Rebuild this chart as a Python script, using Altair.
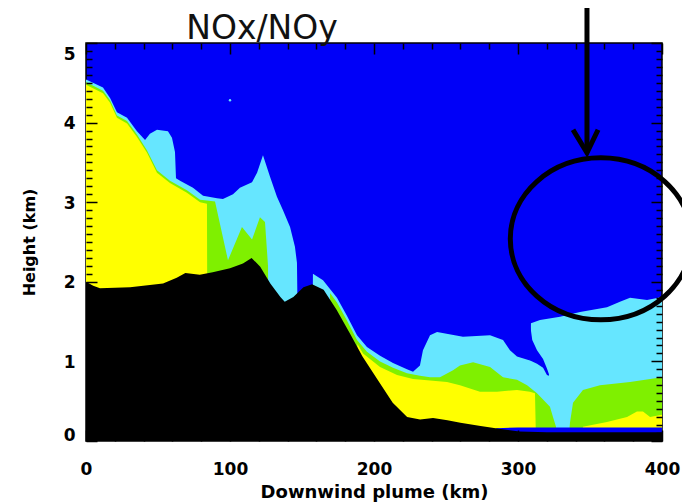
import altair as alt
import pandas as pd

BLUE = "#0000F8"
CYAN = "#66E6FF"
GREEN = "#7FF000"
YELLOW = "#FFFF00"
FONT = "DejaVu Sans"

# ---- data (km downwind, km height) ----
terrain_x = [0, 5, 9.7, 30.6, 53.5, 63, 69, 79, 88, 100, 109, 115, 121, 128, 135, 138, 144, 151,
             157, 165, 174, 183, 192, 204, 213, 223, 232, 241, 251, 260, 274, 288, 301, 320, 400]
terrain_h = [2.0, 1.95, 1.92, 1.93, 1.98, 2.05, 2.11, 2.09, 2.12, 2.17, 2.23, 2.30, 2.19, 1.98, 1.81,
             1.75, 1.81, 1.93, 1.97, 1.90, 1.65, 1.36, 1.06, 0.73, 0.48, 0.30, 0.27, 0.29, 0.26, 0.23,
             0.19, 0.15, 0.12, 0.11, 0.11]

floor_x = [280, 285, 300, 400]
floor_h = [0.0, 0.16, 0.17, 0.17]

cyan_x = [0, 11.8, 16.7, 21.5, 28.5, 35.4, 41.0, 44.4, 49.3, 56.9, 59.7, 61.8, 62.5, 65.3, 74.3, 81.3,
          91.0, 95.1, 102.1, 106.9, 115.3, 118.8, 122.9, 127.8, 132.6, 136.8, 141.7, 145.1, 146.5,
          147.0, 147.5, 156.5, 157.6, 164.6, 174.3, 181.3, 188.2, 195.1, 204.2, 213.2, 222.9, 227.1,
          231.9, 234.0, 238.9, 243.8, 261.8, 280.6, 289.6, 294.4, 299.3, 308.3, 309.0, 315.3, 329.2,
          343.1, 361.8, 370.8, 377.8, 389.6, 400]
cyan_h = [4.54, 4.44, 4.31, 4.13, 4.06, 3.89, 3.78, 3.86, 3.91, 3.89, 3.81, 3.63, 3.30, 3.27, 3.18, 3.08,
          3.05, 3.04, 3.10, 3.18, 3.25, 3.37, 3.59, 3.32, 3.07, 2.90, 2.69, 2.44, 2.24,
          1.5, 0.0, 0.0, 2.10, 2.02, 1.80, 1.57, 1.33, 1.18, 1.07, 0.98, 0.90, 0.87,
          0.95, 1.14, 1.33, 1.37, 1.31, 1.33, 1.27, 1.14, 1.06, 1.01, 1.48, 1.52, 1.56,
          1.62, 1.68, 1.75, 1.80, 1.77, 1.81]

tongue_x = [308.3, 309.9, 313.2, 317.4, 320.1, 321.5]
tongue_lo = [1.01, 1.00, 0.97, 0.92, 0.83, 0.82]
tongue_hi = [1.48, 1.27, 1.14, 1.03, 0.91, 0.84]

green_x = [0, 11.8, 16.7, 21.5, 28.5, 35.4, 42.4, 49.3, 58.3, 70.1, 79.2, 84.0, 89.6, 98.6, 108.3,
           115.3, 120.8, 124.3, 126.4, 127, 168, 169.5, 174.3, 181.3, 188.2, 195.1, 204.2, 213.2,
           222.9, 231.9, 238.9, 245.8, 254.9, 259.7, 268.8, 280.6, 289.6, 299.3, 306.3, 313.2, 322.2,
           324.3, 326.4, 327.5, 335, 336.1, 338.2, 345.1, 356.9, 377.8, 400]
green_h = [4.51, 4.40, 4.28, 4.09, 4.02, 3.85, 3.65, 3.40, 3.27, 3.15, 3.03, 3.02, 3.01, 2.27, 2.69,
           2.53, 2.81, 2.75, 2.2, 0.0, 0.0, 1.86, 1.74, 1.51, 1.27, 1.12, 1.00, 0.92,
           0.85, 0.82, 0.80, 0.80, 0.89, 0.95, 0.99, 0.93, 0.80, 0.77, 0.70, 0.60, 0.43,
           0.30, 0.18, 0.0, 0.0, 0.23, 0.48, 0.64, 0.70, 0.74, 0.80]

yellow_x = [0, 0.7, 11.8, 16.7, 21.5, 28.5, 35.4, 42.4, 49.3, 58.3, 70.1, 79.2, 84.0, 84.5, 186,
            188.5, 192.4, 204.2, 216, 227.1, 238.9, 250.7, 259.7, 273.6, 285.4, 299.3, 308.3, 311.8,
            312.5, 344, 345.1, 361.8, 375.7, 382.6, 386.8, 391.7, 400]
yellow_h = [4.48, 4.47, 4.37, 4.25, 4.06, 3.99, 3.82, 3.62, 3.37, 3.24, 3.12, 3.00, 2.98, 0.0, 0.0,
            1.22, 1.10, 0.93, 0.83, 0.78, 0.76, 0.74, 0.70, 0.62, 0.62, 0.64, 0.62, 0.60,
            0.0, 0.0, 0.18, 0.24, 0.30, 0.37, 0.37, 0.30, 0.33]

speck_x = [100]
speck_h = [4.28]

# annotation: ellipse centre, arrow shaft and arrow head (km)
ring_x = [357.5]
ring_h = [2.54]
shaft_x = [347.9]
shaft_lo = [3.62]
shaft_hi = [5.7]
head_x = [338.2, 347.9, 355.6]
head_h = [3.91, 3.62, 3.91]

x_major = [0, 100, 200, 300, 400]
x_minor = [v for v in range(20, 400, 20) if v % 100]
y_major = [0, 1, 2, 3, 4, 5]
y_minor = [round(i * 0.1, 1) for i in range(1, 50) if i % 10]

xs = alt.Scale(domain=[0, 400], nice=False, zero=False)
ys = alt.Scale(domain=[0, 5], nice=False, zero=False)

common_tick = dict(domain=False, grid=False, tickColor="black", tickWidth=1.5, zindex=1)

ax_bottom = alt.Axis(orient="bottom", values=x_major, tickSize=11, offset=-11, labelFont=FONT,
                     labelFontSize=17, labelFontWeight="bold", labelColor="black", labelPadding=20,
                     labelFlush=False, format="d", title="Downwind plume (km)", titleFont=FONT,
                     titleFontSize=18, titleFontWeight="bold", titleColor="black", titlePadding=6,
                     **common_tick)
ax_bottom_minor = alt.Axis(orient="bottom", values=x_minor, tickSize=6, offset=-6, labels=False,
                           title=None, **common_tick)
ax_top = alt.Axis(orient="top", values=x_major, tickSize=11, offset=-11, labels=False, title=None,
                  **common_tick)
ax_top_minor = alt.Axis(orient="top", values=x_minor, tickSize=6, offset=-6, labels=False,
                        title=None, **common_tick)
ax_left = alt.Axis(orient="left", values=y_major, tickSize=11, offset=-11, labelFont=FONT,
                   labelFontSize=17, labelFontWeight="bold", labelColor="black", labelPadding=11,
                   labelFlush=False,
                   labelOffset={"condition": [{"test": "datum.value === 5", "value": 11},
                                              {"test": "datum.value === 0", "value": -6}],
                                "value": 1},
                   format="d", title="Height (km)",
                   titleFont=FONT, titleFontSize=16, titleFontWeight="bold", titleColor="black",
                   titlePadding=26, **common_tick)
ax_left_minor = alt.Axis(orient="left", values=y_minor, tickSize=6, offset=-6, labels=False,
                         title=None, **common_tick)
ax_right = alt.Axis(orient="right", values=y_major, tickSize=11, offset=-11, labels=False,
                    title=None, **common_tick)
ax_right_minor = alt.Axis(orient="right", values=y_minor, tickSize=6, offset=-6, labels=False,
                          title=None, **common_tick)


def area(xv, hv, color, xaxis=None, yaxis=None):
    df = pd.DataFrame({"x": xv, "h": hv})
    return alt.Chart(df).mark_area(color=color, clip=True, interpolate="linear", opacity=1).encode(
        x=alt.X("x:Q", scale=xs, axis=xaxis),
        y=alt.Y("h:Q", scale=ys, axis=yaxis),
        y2=alt.datum(0),
    )


cyan = area(cyan_x, cyan_h, CYAN, ax_bottom, ax_left)
tongue = alt.Chart(pd.DataFrame({"x": tongue_x, "lo": tongue_lo, "hi": tongue_hi})).mark_area(
    color=BLUE, clip=True, interpolate="linear", opacity=1).encode(
    x=alt.X("x:Q", scale=xs, axis=None),
    y=alt.Y("lo:Q", scale=ys, axis=None),
    y2="hi:Q",
)
green = area(green_x, green_h, GREEN, ax_bottom_minor, ax_left_minor)
yellow = area(yellow_x, yellow_h, YELLOW, ax_top, ax_right)
floor = area(floor_x, floor_h, BLUE)
terrain = area(terrain_x, terrain_h, "black", ax_top_minor, ax_right_minor)

speck = alt.Chart(pd.DataFrame({"x": speck_x, "h": speck_h})).mark_point(
    filled=True, color=CYAN, size=6, opacity=1).encode(
    x=alt.X("x:Q", scale=xs, axis=None), y=alt.Y("h:Q", scale=ys, axis=None))

ELLIPSE = ("M 1 0 C 1 0.4943 0.5523 0.895 0 0.895 C -0.5523 0.895 -1 0.4943 -1 0 "
           "C -1 -0.4943 -0.5523 -0.895 0 -0.895 C 0.5523 -0.895 1 -0.4943 1 0 Z")
ring = alt.Chart(pd.DataFrame({"x": ring_x, "h": ring_h})).mark_point(
    shape=ELLIPSE, size=32761, filled=False, stroke="black", strokeWidth=5, opacity=1,
    clip=False).encode(x=alt.X("x:Q", scale=xs, axis=None), y=alt.Y("h:Q", scale=ys, axis=None))

shaft = alt.Chart(pd.DataFrame({"x": shaft_x, "lo": shaft_lo, "hi": shaft_hi})).mark_rule(
    color="black", strokeWidth=5, clip=False).encode(
    x=alt.X("x:Q", scale=xs, axis=None), y=alt.Y("lo:Q", scale=ys, axis=None), y2="hi:Q")

head = alt.Chart(pd.DataFrame({"x": head_x, "h": head_h})).mark_line(
    color="black", strokeWidth=5, strokeJoin="miter", clip=False).encode(
    x=alt.X("x:Q", scale=xs, axis=None), y=alt.Y("h:Q", scale=ys, axis=None))

title = alt.Chart(pd.DataFrame({"t": ["NOx/NOy"]})).mark_text(
    font=FONT, fontSize=33, align="center", baseline="alphabetic", color="#111").encode(
    text="t:N", x=alt.value(176), y=alt.value(-4))

chart = alt.layer(cyan, tongue, green, yellow, floor, terrain, speck, ring, shaft, head, title).resolve_scale(
    x="shared", y="shared").resolve_axis(x="independent", y="independent").properties(
    width=576, height=398, autosize=alt.AutoSizeParams(type="none"), background="white",
    padding={"left": 78, "top": 35, "right": 20, "bottom": 62},
).configure_view(fill=BLUE, stroke="black", strokeWidth=1.5)

chart.save("out.html", embed_options={"renderer": "svg", "actions": False})
